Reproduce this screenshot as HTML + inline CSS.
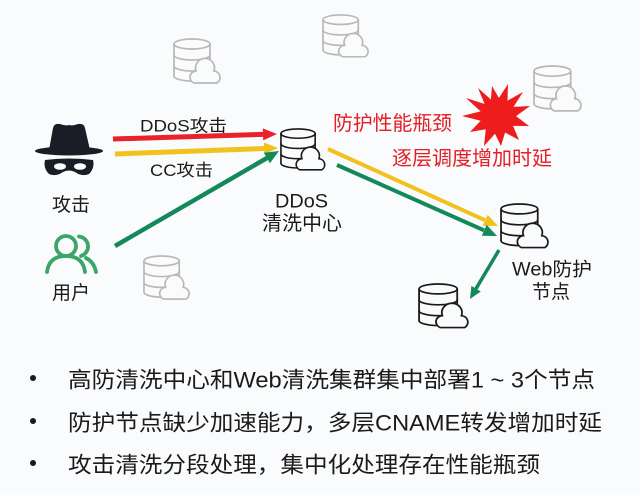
<!DOCTYPE html>
<html><head><meta charset="utf-8">
<style>
html,body{margin:0;padding:0;background:#fafbfc;}
svg{display:block;}
text{font-family:"Liberation Sans","Noto Sans CJK SC",sans-serif;}
</style></head>
<body>
<svg width="640" height="495" viewBox="0 0 640 495" xmlns="http://www.w3.org/2000/svg">
<defs>
<g id="srv" fill="none" stroke="currentColor" stroke-width="1.7" stroke-linecap="round">
  <ellipse cx="19" cy="6" rx="18" ry="5"/>
  <path d="M1 6 V38 M37 6 V22"/>
  <path d="M1 17 A18 5 0 0 0 37 17"/>
  <path d="M1 28 A18 5 0 0 0 37 28"/>
  <path d="M1 38 A18 5 0 0 0 37 38"/>
  <path d="M21 45 A6.2 6.2 0 0 1 23 33 A9.5 9.5 0 1 1 41 33 A6.5 6.5 0 0 1 44 45 Z" fill="#fafbfc"/>
</g>
</defs>
<rect x="0" y="0" width="640" height="495" fill="#fafbfc"/>

<!-- gray servers -->
<use href="#srv" transform="translate(173,38) scale(1.0)" style="color:#b8b8b8"/>
<use href="#srv" transform="translate(322,14) scale(0.98,0.95)" style="color:#b8b8b8"/>
<use href="#srv" transform="translate(533,65) scale(1.02)" style="color:#b8b8b8"/>
<use href="#srv" transform="translate(143,255) scale(0.98)" style="color:#b8b8b8"/>

<!-- black servers -->
<use href="#srv" transform="translate(280,128) scale(0.95,0.93)" style="color:#1a1a1a"/>
<use href="#srv" transform="translate(500,203) scale(1.02,0.99)" style="color:#1a1a1a"/>
<use href="#srv" transform="translate(418,283) scale(1.06,0.99)" style="color:#1a1a1a"/>

<!-- hacker icon -->
<g fill="#1a1d26">
  <path d="M49 150 L53 128 Q54 123 60 124 Q66 126 69 125 Q73 126 78 124 Q84 123 85 128 L90 150 Z"/>
  <ellipse cx="69" cy="151" rx="34" ry="4.5"/>
  <path d="M45 160 Q69 157 93 160 Q95 168 89 174 Q82 177 75 172 Q69 169 63 172 Q56 177 49 174 Q43 168 45 160 Z"/>
</g>
<ellipse cx="60" cy="166.5" rx="6" ry="3.3" fill="#fafbfc"/>
<ellipse cx="80" cy="166.5" rx="6" ry="3.3" fill="#fafbfc"/>

<!-- users icon -->
<g fill="none" stroke="#3aa66a" stroke-width="3.8" stroke-linecap="round">
  <circle cx="66" cy="246" r="10"/>
  <path d="M47 272 Q49 256 66 256 Q83 256 85 272"/>
  <path d="M79 236.5 A10 10 0 0 1 81 256"/>
  <path d="M86 258 Q94 262 96 272"/>
</g>

<!-- arrows -->
<g stroke-linecap="butt">
  <line x1="113" y1="139" x2="263" y2="134.4" stroke="#e8232a" stroke-width="5"/>
  <polygon points="277,134 263.2,140.4 262.8,128.4" fill="#e8232a"/>

  <line x1="115" y1="154" x2="264" y2="148.5" stroke="#f2c11f" stroke-width="5"/>
  <polygon points="278,148 264.2,154.5 263.8,142.5" fill="#f2c11f"/>

  <line x1="115" y1="246" x2="267" y2="158" stroke="#13895a" stroke-width="4.5"/>
  <polygon points="279,151 269.9,163.2 263.9,152.8" fill="#13895a"/>

  <line x1="328" y1="149" x2="485" y2="220.2" stroke="#f2c11f" stroke-width="4"/>
  <polygon points="498,226 482.7,225.7 487.7,214.7" fill="#f2c11f"/>

  <line x1="337" y1="165" x2="484" y2="230.3" stroke="#13895a" stroke-width="4"/>
  <polygon points="497,236 481.8,235.8 486.6,224.8" fill="#13895a"/>

  <line x1="499" y1="250" x2="476" y2="288.7" stroke="#13895a" stroke-width="3.5"/>
  <polygon points="470,299 471.4,285.9 480.8,291.5" fill="#13895a"/>
</g>

<!-- starburst -->
<polygon fill="#ee1c1c" points="508,84 507.5,100.7 523,92 513.5,106.9 530,106 516,116.1 529,126 513,125.9 519,140 505.1,132.5 501,146 495,133.7 484,146 485.8,129.3 470,132 480.6,120.7 462,116 480.6,111.4 466,98 484.6,104 478,88 490.9,99.5 492,86 498.9,98"/>

<!-- labels -->
<g fill="#1a1a1a">
  <text x="140" y="131.5" font-size="17" textLength="87" lengthAdjust="spacingAndGlyphs">DDoS攻击</text>
  <text x="150" y="176" font-size="17" textLength="63" lengthAdjust="spacingAndGlyphs">CC攻击</text>
  <text x="52" y="211" font-size="19" textLength="38" lengthAdjust="spacingAndGlyphs">攻击</text>
  <text x="52" y="299" font-size="19" textLength="38" lengthAdjust="spacingAndGlyphs">用户</text>
  <text x="275" y="207.5" font-size="19" textLength="53" lengthAdjust="spacingAndGlyphs">DDoS</text>
  <text x="262" y="230" font-size="20" textLength="80" lengthAdjust="spacingAndGlyphs">清洗中心</text>
  <text x="512" y="275.5" font-size="19" textLength="80" lengthAdjust="spacingAndGlyphs">Web防护</text>
  <text x="532" y="298" font-size="19" textLength="38" lengthAdjust="spacingAndGlyphs">节点</text>
</g>
<g fill="#e31e24">
  <text x="333" y="130" font-size="20" textLength="119" lengthAdjust="spacingAndGlyphs">防护性能瓶颈</text>
  <text x="392" y="165" font-size="20" textLength="160" lengthAdjust="spacingAndGlyphs">逐层调度增加时延</text>
</g>

<!-- bullets -->
<g fill="#1a1a1a">
  <circle cx="33" cy="378" r="3"/>
  <circle cx="33" cy="421" r="3"/>
  <circle cx="33" cy="463" r="3"/>
  <text x="68" y="387.5" font-size="22" textLength="527" lengthAdjust="spacingAndGlyphs">高防清洗中心和Web清洗集群集中部署1 ~ 3个节点</text>
  <text x="68" y="430.5" font-size="22" textLength="534" lengthAdjust="spacingAndGlyphs">防护节点缺少加速能力，多层CNAME转发增加时延</text>
  <text x="68" y="472.5" font-size="22" textLength="472" lengthAdjust="spacingAndGlyphs">攻击清洗分段处理，集中化处理存在性能瓶颈</text>
</g>
</svg>
</body></html>
